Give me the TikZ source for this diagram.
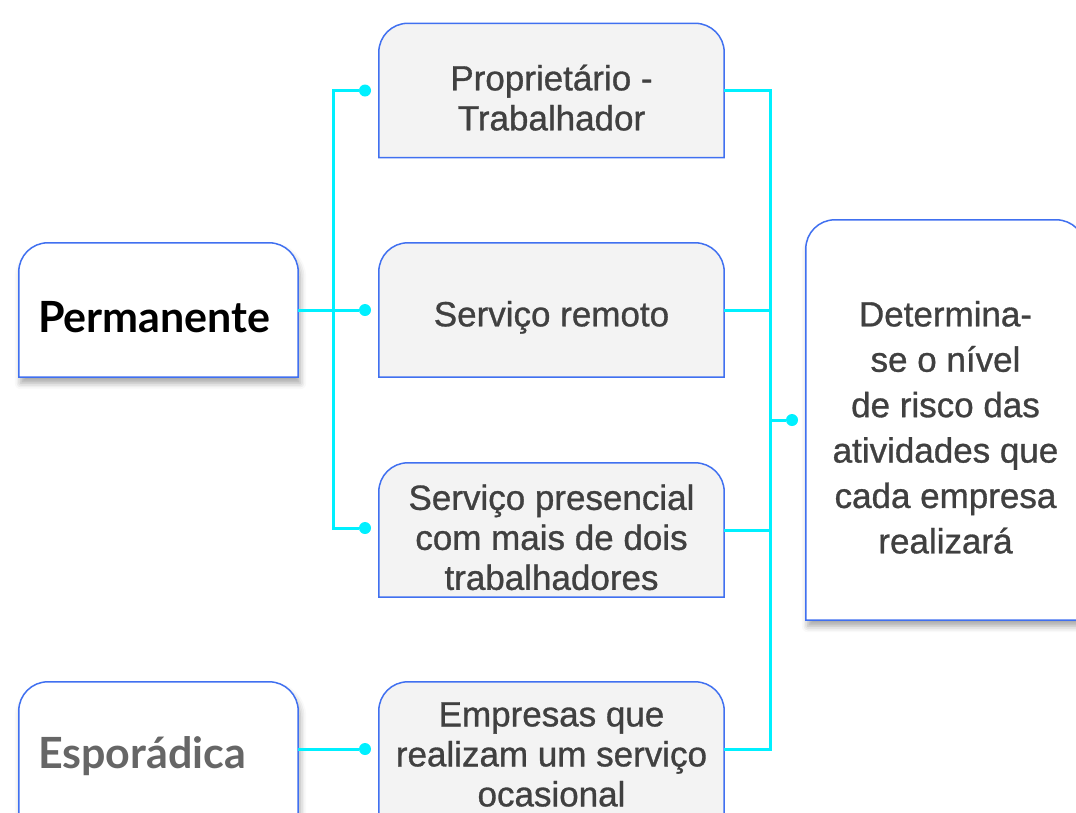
\documentclass[tikz,border=0pt]{standalone}
\usepackage{fontspec}
\setmainfont{Liberation Sans}[FakeBold=0.9]
\newfontfamily\headfont{Lato}
\usetikzlibrary{positioning,backgrounds,shadows.blur,calc}
\definecolor{boxblue}{RGB}{64,112,240}
\definecolor{boxgray}{RGB}{243,243,243}
\definecolor{txtgray}{RGB}{64,64,64}
\definecolor{headgray}{RGB}{102,102,102}
\definecolor{linkcyan}{RGB}{0,240,255}
\tikzset{
  mwHead/.style={minimum width=279pt, minimum height=134pt,
    text width=241pt, inner xsep=19pt, inner ysep=0pt, align=left,
    font=\headfont\bfseries\fontsize{43}{48}\selectfont, text=black},
  mwBox/.style={minimum width=345pt, minimum height=134pt, inner sep=0pt,
    align=center, text=txtgray, font=\fontsize{35}{40}\selectfont},
  %% Outline with rounded top corners
  mwOutline/.style={draw=boxblue, line width=1.5pt},
  mwShadow/.style={blur shadow={shadow xshift=2pt, shadow yshift=-6pt,
    shadow opacity=35, shadow blur radius=6pt}},
  %% Connectors
  mwLink/.style={draw=linkcyan, line width=3pt},
  mwDot/.style={circle, fill=linkcyan, inner sep=0pt, minimum size=12pt},
}
%% strut that pushes the text a little down in its box
\newcommand{\lift}[1]{\rule{0pt}{#1}}
\newcommand{\capbox}[2]{%
  \path[mwOutline, #2] (#1.south west) -- ([yshift=-29pt]#1.north west)
    arc[start angle=180, end angle=90, radius=29pt]
    -- ([xshift=-29pt]#1.north east)
    arc[start angle=90, end angle=0, radius=29pt]
    -- (#1.south east) -- cycle;}

\begin{document}
\begin{tikzpicture}[x=1pt, y=-1pt]
\useasboundingbox (0,0) rectangle (1076,812);

%% Categories
\node[mwHead] (perm) at (158.5,310) {\lift{46pt}Permanente};
\node[mwHead, text=headgray] (espo) at (158.5,749) {\lift{46pt}Esporádica};

%% Cases
\node[mwBox] (prop) at (551.5,90.5) {\lift{40pt}Proprietário -\\Trabalhador};
\node[mwBox] (remo) at (551.5,310) {\lift{40pt}Serviço remoto};
\node[mwBox] (pres) at (551.5,530) {\lift{40pt}Serviço presencial\\com mais de dois\\trabalhadores};
\node[mwBox] (empr) at (551.5,749) {\lift{35pt}Empresas que\\realizam um serviço\\ocasional};

%% Result
\node[mwBox, minimum width=279pt, minimum height=400pt,
  font=\fontsize{35}{45.4}\selectfont] (risco) at (945.5,420)
  {\lift{40pt}Determina-\\se o nível\\de risco das\\atividades que\\cada empresa\\realizará};

%% Box outlines
\begin{scope}[on background layer]
\foreach \n in {perm,espo,risco}
  \capbox{\n}{fill=white, mwShadow};
\foreach \n in {prop,remo,pres,empr}
  \capbox{\n}{fill=boxgray};
\end{scope}

%% Buses and dots
\coordinate (lbus) at (333,0);
\coordinate (rbus) at (770,0);
\node[mwDot] (dprop)  at (365,90.5) {};
\node[mwDot] (dremo)  at (365,310) {};
\node[mwDot] (dpres)  at (365,528) {};
\node[mwDot] (dempr)  at (365,749) {};
\node[mwDot] (drisco) at (792,420) {};

\draw[mwLink] (dprop) -- (dprop -| lbus) -- (dpres -| lbus) -- (dpres);
\draw[mwLink] (perm) -- (dremo);
\draw[mwLink] (espo) -- (dempr);
\draw[mwLink] (prop) -- (prop -| rbus) -- (empr -| rbus) -- (empr);
\draw[mwLink] (remo) -- (remo -| rbus);
\draw[mwLink] (pres) -- (pres -| rbus);
\draw[mwLink] (drisco -| rbus) -- (drisco);

\end{tikzpicture}
\end{document}
